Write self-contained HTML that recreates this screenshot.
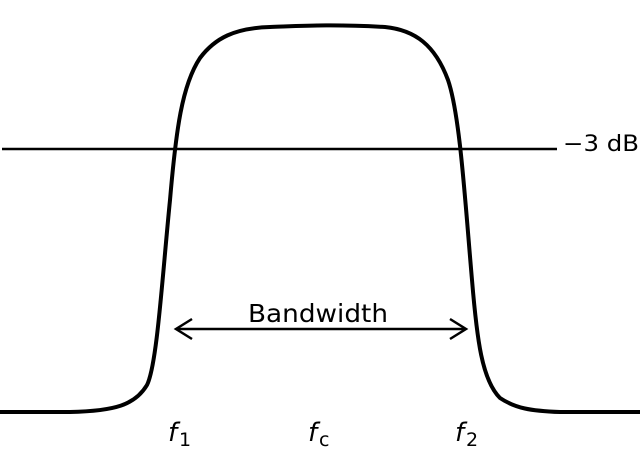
<!DOCTYPE html>
<html><head><style>
html,body{margin:0;padding:0;background:#fff;}
svg{display:block;}
text{font-family:"DejaVu Sans","Liberation Sans",sans-serif;fill:#000;}
</style></head><body>
<svg width="640" height="450" viewBox="0 0 640 450" xmlns="http://www.w3.org/2000/svg">
<line x1="2" y1="149" x2="557" y2="149" stroke="#000" stroke-width="2.5"/>
<path d="M0,412 L70,412 C115,411 135,405 147,385 C157,365 162,280 170,200 C176,130 182,85 200,58 C215,38 235,28 270,27 C300,26 330,24 385,27 C415,30 435,45 448,80 C460,115 465,200 472,280 C477,340 482,380 500,398 C515,408 530,411 560,412 L640,412" fill="none" stroke="#000" stroke-width="4"/>
<line x1="176" y1="329" x2="466" y2="329" stroke="#000" stroke-width="2.5"/>
<polyline points="192,319 176,329 192,339" fill="none" stroke="#000" stroke-width="2.5"/>
<polyline points="450,319 466,329 450,339" fill="none" stroke="#000" stroke-width="2.5"/>
<text x="318" y="322" font-size="25" text-anchor="middle" textLength="140" lengthAdjust="spacingAndGlyphs">Bandwidth</text>
<text x="563" y="151" font-size="22" textLength="76" lengthAdjust="spacingAndGlyphs">−3 dB</text>
<text x="168" y="441" font-size="26" font-style="italic">f</text><text x="179" y="446" font-size="19">1</text>
<text x="308" y="441" font-size="26" font-style="italic">f</text><text x="319" y="446" font-size="19">c</text>
<text x="455" y="441" font-size="26" font-style="italic">f</text><text x="466" y="446" font-size="19">2</text>
</svg>
</body></html>
